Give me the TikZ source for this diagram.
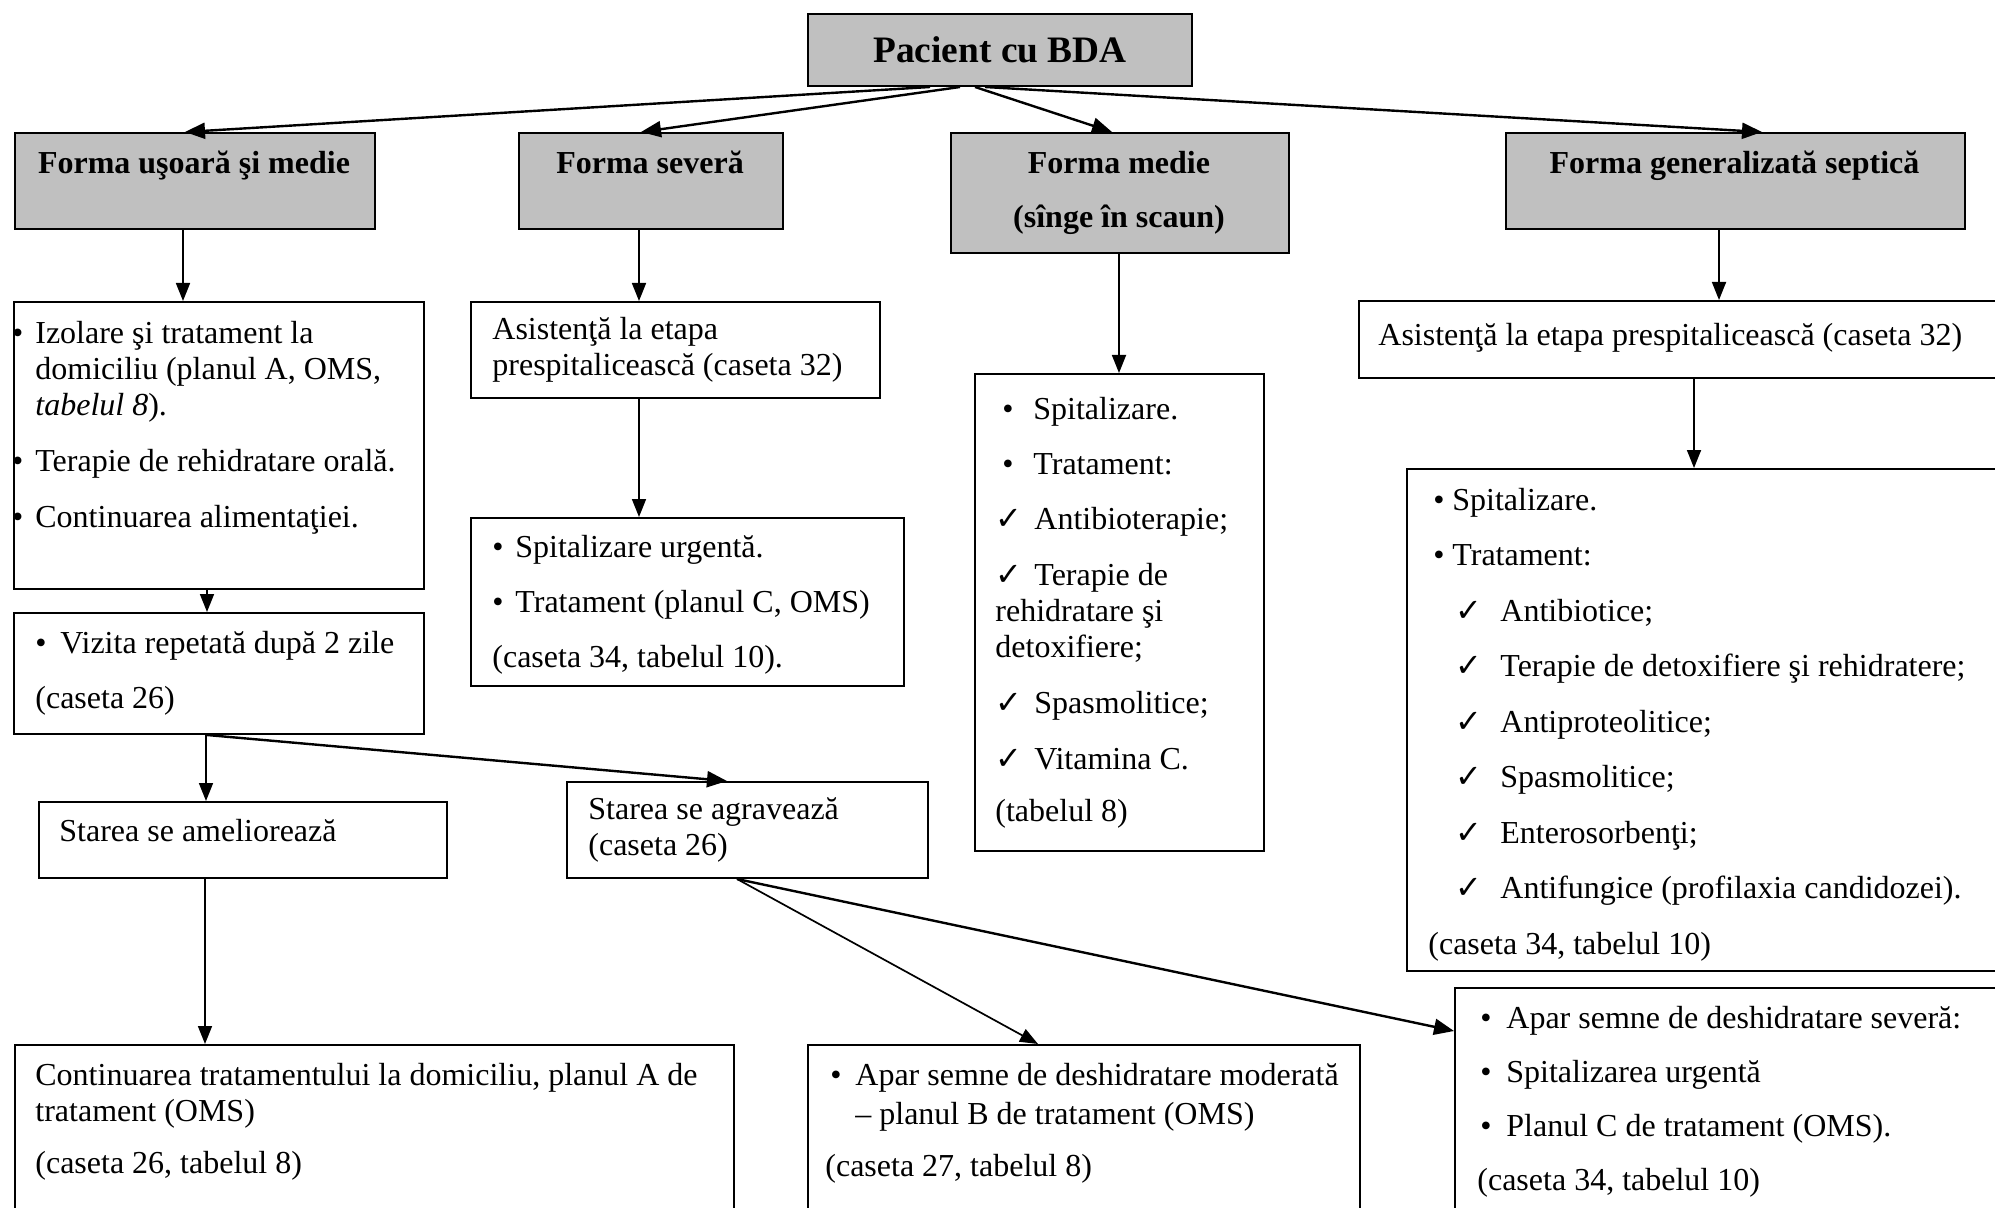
\documentclass[tikz,border=0pt]{standalone}
\usepackage{fontspec}
\setmainfont{Liberation Serif}
\newfontfamily\checkfont[Scale=1.0]{DejaVu Sans}
\usepackage{xcolor}
\definecolor{headgray}{HTML}{C0C0C0}
\usetikzlibrary{arrows.meta}
\newcommand{\chk}{{\checkfont ✓}}
\tikzset{
  headbox/.style={draw, line width=1pt, fill=headgray, rectangle, anchor=north west, inner sep=0pt},
  plainbox/.style={draw, line width=1pt, rectangle, anchor=north west, inner sep=0pt},
  headtext/.style={anchor=base, inner sep=0pt, align=center, font=\bfseries\fontsize{16}{27}\selectfont},
  bodytext/.style={anchor=base west, inner sep=0pt, align=left, font=\fontsize{16}{18}\selectfont},
  arrowthin/.style={line width=0.85pt, -{Triangle[length=9pt,width=7pt]}},
  arrowthick/.style={line width=1.2pt, -{Triangle[length=10pt,width=8pt]}},
}

\begin{document}
\begin{tikzpicture}[x=0.5pt, y=-0.5pt]
  \useasboundingbox[fill=white] (0,0) rectangle (1995,1208);
  \clip (0,0) rectangle (1995,1208);

  % top row
  \node[headbox, minimum width=192pt, minimum height=36pt,
        font=\bfseries\fontsize{18.67}{22}\selectfont] (pac) at (807,13) {Pacient cu BDA};
  \node[headbox, minimum width=180pt, minimum height=48pt] (f1) at (14,132) {};
  \node[headbox, minimum width=132pt, minimum height=48pt] (f2) at (518,132) {};
  \node[headbox, minimum width=169pt, minimum height=60pt] (f3) at (950,132) {};
  \node[headbox, minimum width=229.5pt, minimum height=48pt] (f4) at (1505,132) {};
  \node[headtext] (f1t) at (194,174) {Forma uşoară şi medie};
  \node[headtext] (f2t) at (650,174) {Forma severă};
  \node[headtext] (f3t) at (1119,228) {Forma medie\\(sînge în scaun)};
  \node[headtext] (f4t) at (1734.5,174) {Forma generalizată septică};

  % boxes
  \node[plainbox, minimum width=205pt, minimum height=143.5pt] (a1) at (13,301) {};
  \node[plainbox, minimum width=205pt, minimum height=60.5pt] (a2) at (13,612) {};
  \node[plainbox, minimum width=204.5pt, minimum height=48pt] (b1) at (470,301) {};
  \node[plainbox, minimum width=216.5pt, minimum height=84pt] (b2) at (470,517) {};
  \node[plainbox, minimum width=144.5pt, minimum height=238.5pt] (c1) at (974,373) {};
  \node[plainbox, minimum width=330pt, minimum height=38.5pt] (d1) at (1358,300) {};
  \node[plainbox, minimum width=305pt, minimum height=251pt] (d2) at (1406,468) {};
  \node[plainbox, minimum width=204pt, minimum height=38pt] (s1) at (38,801) {};
  \node[plainbox, minimum width=180.5pt, minimum height=48pt] (s2) at (566,781) {};
  \node[plainbox, minimum width=359.5pt, minimum height=100pt] (e1) at (14,1044) {};
  \node[plainbox, minimum width=276pt, minimum height=100pt] (e2) at (807,1044) {};
  \node[plainbox, minimum width=290pt, minimum height=130pt] (e3) at (1454,987) {};

  % texts (anchored on the last line)
  \node[bodytext] (a1t) at (35,527) {\llap{•\hspace{6pt}}Izolare şi tratament la\\
    domiciliu (planul A, OMS,\\ \textit{tabelul 8}).\\[10pt]
    \llap{•\hspace{6pt}}Terapie de rehidratare orală.\\[10pt]
    \llap{•\hspace{6pt}}Continuarea alimentaţiei.};
  \node[bodytext] (a2t) at (35,708) {\makebox[12.5pt][l]{•}Vizita repetată după 2 zile\\[9.5pt]
    (caseta 26)};
  \node[bodytext] (b1t) at (492,376) {Asistenţă la etapa\\ prespitalicească (caseta 32)};
  \node[bodytext] (b2t) at (492,667) {\makebox[11.5pt][l]{•}Spitalizare urgentă.\\[9.5pt]
    \makebox[11.5pt][l]{•}Tratament (planul C, OMS)\\[9.5pt]
    (caseta 34, tabelul 10).};
  \node[bodytext] (c1t) at (995,821) {\makebox[19pt][l]{\hspace*{3.5pt}•}Spitalizare.\\[9.5pt]
    \makebox[19pt][l]{\hspace*{3.5pt}•}Tratament:\\[9.5pt]
    \makebox[19.5pt][l]{\chk}Antibioterapie;\\[10pt]
    \makebox[19.5pt][l]{\chk}Terapie de\\ rehidratare şi\\ detoxifiere;\\[10pt]
    \makebox[19.5pt][l]{\chk}Spasmolitice;\\[10pt]
    \makebox[19.5pt][l]{\chk}Vitamina C.\\[8pt]
    (tabelul 8)};
  \node[bodytext] (d1t) at (1378,346) {Asistenţă la etapa prespitalicească (caseta 32)};
  \node[bodytext] (d2t) at (1428,954) {\hspace*{2.5pt}\makebox[9.5pt][l]{•}Spitalizare.\\[9.75pt]
    \hspace*{2.5pt}\makebox[9.5pt][l]{•}Tratament:\\[9.75pt]
    \hspace*{13.5pt}\makebox[22.5pt][l]{\chk}Antibiotice;\\[9.75pt]
    \hspace*{13.5pt}\makebox[22.5pt][l]{\chk}Terapie de detoxifiere şi rehidratere;\\[9.75pt]
    \hspace*{13.5pt}\makebox[22.5pt][l]{\chk}Antiproteolitice;\\[9.75pt]
    \hspace*{13.5pt}\makebox[22.5pt][l]{\chk}Spasmolitice;\\[9.75pt]
    \hspace*{13.5pt}\makebox[22.5pt][l]{\chk}Enterosorbenţi;\\[9.75pt]
    \hspace*{13.5pt}\makebox[22.5pt][l]{\chk}Antifungice (profilaxia candidozei).\\[9.75pt]
    (caseta 34, tabelul 10)};
  \node[bodytext] (s1t) at (59,841) {Starea se ameliorează};
  \node[bodytext] (s2t) at (588,855) {Starea se agravează\\ (caseta 26)};
  \node[bodytext] (e1t) at (35,1173) {Continuarea tratamentului la domiciliu, planul A de\\
    tratament (OMS)\\[8pt] (caseta 26, tabelul 8)};
  \node[bodytext] (e2t) at (825,1176) {\hspace*{2.5pt}\makebox[12.5pt][l]{•}Apar semne de deshidratare moderată\\[1.5pt]
    \hspace*{15pt}– planul B de tratament (OMS)\\[8pt]
    (caseta 27, tabelul 8)};
  \node[bodytext] (e3t) at (1477,1190) {\hspace*{1.5pt}\makebox[13pt][l]{•}Apar semne de deshidratare severă:\\[9pt]
    \hspace*{1.5pt}\makebox[13pt][l]{•}Spitalizarea urgentă\\[9pt]
    \hspace*{1.5pt}\makebox[13pt][l]{•}Planul C de tratament (OMS).\\[9pt]
    (caseta 34, tabelul 10)};

  % arrows from the patient
  \draw[arrowthick] ([xshift=61.5pt]pac.south west) -- ([xshift=85.5pt]f1.north west);
  \draw[arrowthick] ([xshift=76.5pt]pac.south west) -- ([xshift=61.5pt]f2.north west);
  \draw[arrowthick] ([xshift=84pt]pac.south west) -- ([xshift=81pt]f3.north west);
  \draw[arrowthick] ([xshift=89pt]pac.south west) -- ([xshift=128.5pt]f4.north west);

  % downward arrows
  \draw[arrowthin] ([xshift=84.5pt]f1.south west) -- ([xshift=85pt]a1.north west);
  \draw[arrowthin] ([xshift=60.5pt]f2.south west) -- ([xshift=84.5pt]b1.north west);
  \draw[arrowthin] ([xshift=84.5pt]f3.south west) -- ([xshift=72.5pt]c1.north west);
  \draw[arrowthin] ([xshift=107pt]f4.south west) -- ([xshift=180.5pt]d1.north west);
  \draw[arrowthin] ([xshift=84.5pt]b1.south west) -- ([xshift=84.5pt]b2.north west);
  \draw[arrowthin] ([xshift=168pt]d1.south west) -- ([xshift=144pt]d2.north west);
  \draw[arrowthin] ([xshift=97pt]a1.south west) -- ([xshift=97pt]a2.north west);
  \draw[arrowthin] ([xshift=96.5pt]a2.south west) -- ([xshift=84pt]s1.north west);
  \draw[arrowthick] ([xshift=97pt]a2.south west) -- ([xshift=80.5pt]s2.north west);
  \draw[arrowthin] ([xshift=83.5pt]s1.south west) -- ([xshift=95.5pt]e1.north west);
  \draw[arrowthin] ([xshift=85.5pt]s2.south west) -- ([xshift=115.5pt]e2.north west);
  \draw[arrowthick] ([xshift=85.5pt]s2.south west) -- ([yshift=-22pt]e3.north west);
\end{tikzpicture}
\end{document}
